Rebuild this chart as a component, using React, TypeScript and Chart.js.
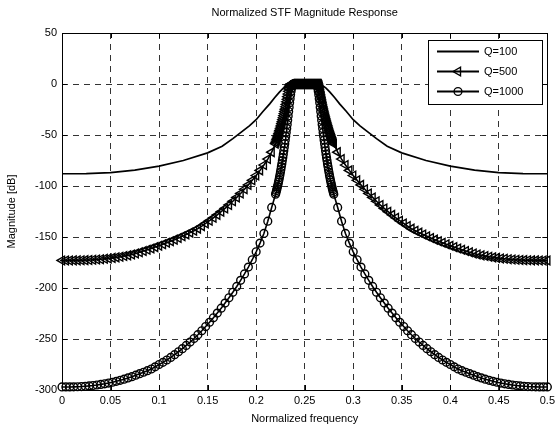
import React, { useEffect, useRef } from "react";
import { Chart, registerables } from "chart.js";

Chart.register(...registerables);

const titleText = "Normalized STF Magnitude Response";
const xAxisTitle = "Normalized frequency";
const yAxisTitle = "Magnitude [dB]";
const seriesNames = ["Q=100", "Q=500", "Q=1000"];

const xTicks = [0, 0.05, 0.1, 0.15, 0.2, 0.25, 0.3, 0.35, 0.4, 0.45, 0.5];
const xTickLabels = ["0", "0.05", "0.1", "0.15", "0.2", "0.25", "0.3", "0.35", "0.4", "0.45", "0.5"];
const yTicks = [-300, -250, -200, -150, -100, -50, 0, 50];

// Q=100 (solid line)
const q100Freq = [0, 0.025, 0.05, 0.075, 0.1, 0.125, 0.15, 0.165, 0.176, 0.185, 0.193, 0.2, 0.207, 0.214, 0.219, 0.224, 0.228, 0.232, 0.236,
  0.264, 0.268, 0.272, 0.276, 0.281, 0.286, 0.293, 0.3, 0.307, 0.315, 0.324, 0.335, 0.35, 0.375, 0.4, 0.425, 0.45, 0.475, 0.5];
const q100Mag = [-88, -87.8, -86.8, -84.5, -80.5, -75, -67.5, -61, -53.5, -47, -41, -35, -27, -19.5, -13.5, -8, -4, -1.2, 0,
  0, -1.2, -4, -8, -13.5, -19.5, -27, -35, -41, -47, -53.5, -61, -67.5, -75, -80.5, -84.5, -86.8, -87.8, -88];

// frequency grid shared by the marker series
const freqLeft = [0, 0.004, 0.008, 0.012, 0.016, 0.02, 0.024, 0.028, 0.032, 0.036,
  0.04, 0.044, 0.048, 0.052, 0.056, 0.06, 0.064, 0.068, 0.072, 0.076,
  0.08, 0.084, 0.088, 0.092, 0.096, 0.1, 0.104, 0.108, 0.112, 0.116,
  0.12, 0.124, 0.128, 0.132, 0.136, 0.14, 0.144, 0.148, 0.152, 0.156,
  0.16, 0.164, 0.168, 0.172, 0.176, 0.18, 0.184, 0.188, 0.192, 0.196,
  0.2, 0.204, 0.208, 0.212, 0.216];
const freqBand = [0.22, 0.2205, 0.221, 0.2215, 0.222, 0.2225, 0.223, 0.2235, 0.224, 0.2245,
  0.225, 0.2255, 0.226, 0.2265, 0.227, 0.2275, 0.228, 0.2285, 0.229, 0.2295,
  0.23, 0.2305, 0.231, 0.2315, 0.232, 0.2325, 0.233, 0.2335, 0.234, 0.2345,
  0.235, 0.2355, 0.236, 0.2365, 0.237, 0.2375, 0.238, 0.2385, 0.239, 0.2395,
  0.24, 0.2405, 0.241, 0.2415, 0.242, 0.2425, 0.243, 0.2435, 0.244, 0.2445,
  0.245, 0.2455, 0.246, 0.2465, 0.247, 0.2475, 0.248, 0.2485, 0.249, 0.2495,
  0.25, 0.2505, 0.251, 0.2515, 0.252, 0.2525, 0.253, 0.2535, 0.254, 0.2545,
  0.255, 0.2555, 0.256, 0.2565, 0.257, 0.2575, 0.258, 0.2585, 0.259, 0.2595,
  0.26, 0.2605, 0.261, 0.2615, 0.262, 0.2625, 0.263, 0.2635, 0.264, 0.2645,
  0.265, 0.2655, 0.266, 0.2665, 0.267, 0.2675, 0.268, 0.2685, 0.269, 0.2695,
  0.27, 0.2705, 0.271, 0.2715, 0.272, 0.2725, 0.273, 0.2735, 0.274, 0.2745,
  0.275, 0.2755, 0.276, 0.2765, 0.277, 0.2775, 0.278, 0.2785, 0.279, 0.2795,
  0.28];
const freqRight = [0.284, 0.288, 0.292, 0.296, 0.3, 0.304, 0.308, 0.312, 0.316, 0.32,
  0.324, 0.328, 0.332, 0.336, 0.34, 0.344, 0.348, 0.352, 0.356, 0.36,
  0.364, 0.368, 0.372, 0.376, 0.38, 0.384, 0.388, 0.392, 0.396, 0.4,
  0.404, 0.408, 0.412, 0.416, 0.42, 0.424, 0.428, 0.432, 0.436, 0.44,
  0.444, 0.448, 0.452, 0.456, 0.46, 0.464, 0.468, 0.472, 0.476, 0.48,
  0.484, 0.488, 0.492, 0.496, 0.5];

// Q=500 (left-pointing triangles)
const q500Left = [-173.0, -173.0, -173.0, -172.9, -172.9, -172.8, -172.7, -172.5, -172.3, -172.1,
  -171.8, -171.4, -171.0, -170.5, -170.0, -169.4, -168.7, -168.0, -167.1, -166.1,
  -165.0, -163.8, -162.5, -161.2, -159.9, -158.5, -157.1, -155.6, -154.1, -152.6,
  -151.0, -149.3, -147.5, -145.7, -143.8, -141.8, -139.3, -136.7, -134.0, -131.2,
  -128.3, -125.2, -122.0, -118.6, -115.0, -111.2, -107.3, -103.2, -98.9, -94.4,
  -89.7, -84.7, -79.4, -73.6, -66.8];
const q500Band = [-58.5, -57.2, -55.9, -54.5, -53.1, -51.7, -50.2, -48.7, -47.1, -45.5,
  -43.9, -42.2, -40.5, -38.7, -36.9, -35.0, -33.1, -31.1, -29.0, -26.9,
  -24.7, -22.4, -20.0, -17.5, -15.0, -12.4, -9.8, -7.2, -4.8, -2.8,
  -1.3, -0.4,
  0, 0, 0, 0, 0, 0, 0, 0, 0, 0,
  0, 0, 0, 0, 0, 0, 0, 0, 0, 0,
  0, 0, 0, 0, 0, 0, 0, 0, 0, 0,
  0, 0, 0, 0, 0, 0, 0, 0, 0, 0,
  0, 0, 0, 0, 0, 0, 0, 0, 0, 0,
  0, 0, 0, 0, 0, 0, 0,
  -0.4, -1.3,
  -2.8, -4.8, -7.2, -9.8, -12.4, -15.0, -17.5, -20.0, -22.4, -24.7,
  -26.9, -29.0, -31.1, -33.1, -35.0, -36.9, -38.7, -40.5, -42.2, -43.9,
  -45.5, -47.1, -48.7, -50.2, -51.7, -53.1, -54.5, -55.9, -57.2, -58.5];
const q500Right = [-66.8, -73.6, -79.4, -84.7, -89.7,
  -94.4, -98.9, -103.2, -107.3, -111.2, -115.0, -118.6, -122.0, -125.2, -128.3,
  -131.2, -134.0, -136.7, -139.3, -141.8, -143.8, -145.7, -147.5, -149.3, -151.0,
  -152.6, -154.1, -155.6, -157.1, -158.5, -159.9, -161.2, -162.5, -163.8, -165.0,
  -166.1, -167.1, -168.0, -168.7, -169.4, -170.0, -170.5, -171.0, -171.4, -171.8,
  -172.1, -172.3, -172.5, -172.7, -172.8, -172.9, -172.9, -173.0, -173.0, -173.0];

// Q=1000 (circles)
const q1000Left = [-297.0, -297.0, -297.0, -296.9, -296.8, -296.6, -296.3, -296.0, -295.6, -295.1,
  -294.5, -293.9, -293.2, -292.4, -291.5, -290.5, -289.4, -288.2, -286.9, -285.5,
  -284.0, -282.6, -281.1, -279.4, -277.3, -275.0, -272.9, -270.6, -268.1, -265.4,
  -262.5, -259.5, -256.3, -253.0, -249.5, -245.8, -241.9, -237.8, -233.6, -229.2,
  -224.6, -219.8, -214.8, -209.6, -204.2, -198.5, -192.5, -186.2, -179.5, -172.3,
  -164.5, -156.0, -146.5, -134.5, -121.0];
const q1000Band = [-108.0, -106.3, -104.5, -102.6, -100.6, -98.5, -96.3, -94.0, -91.6, -89.1,
  -86.5, -83.8, -81.0, -78.1, -75.1, -72.0, -68.8, -65.5, -62.1, -58.6,
  -55.0, -51.3, -47.5, -43.6, -39.6, -35.5, -31.3, -27.0, -22.7, -18.5,
  -14.4, -10.5, -7.0, -4.1, -1.9, -0.6,
  0, 0, 0, 0, 0, 0, 0, 0, 0, 0,
  0, 0, 0, 0, 0, 0, 0, 0, 0, 0,
  0, 0, 0, 0, 0, 0, 0, 0, 0, 0,
  0, 0, 0, 0, 0, 0, 0, 0, 0, 0,
  0, 0, 0, 0, 0, 0, 0, 0, 0,
  -0.6, -1.9, -4.1, -7.0, -10.5, -14.4,
  -18.5, -22.7, -27.0, -31.3, -35.5, -39.6, -43.6, -47.5, -51.3, -55.0,
  -58.6, -62.1, -65.5, -68.8, -72.0, -75.1, -78.1, -81.0, -83.8, -86.5,
  -89.1, -91.6, -94.0, -96.3, -98.5, -100.6, -102.6, -104.5, -106.3, -108.0];
const q1000Right = [-121.0, -134.5, -146.5, -156.0, -164.5,
  -172.3, -179.5, -186.2, -192.5, -198.5, -204.2, -209.6, -214.8, -219.8, -224.6,
  -229.2, -233.6, -237.8, -241.9, -245.8, -249.5, -253.0, -256.3, -259.5, -262.5,
  -265.4, -268.1, -270.6, -272.9, -275.0, -277.3, -279.4, -281.1, -282.6, -284.0,
  -285.5, -286.9, -288.2, -289.4, -290.5, -291.5, -292.4, -293.2, -293.9, -294.5,
  -295.1, -295.6, -296.0, -296.3, -296.6, -296.8, -296.9, -297.0, -297.0, -297.0];

const FONT = '"Liberation Sans", Arial, Helvetica, sans-serif';

function pairs(xs: number[], ys: number[]) {
  return xs.map((x, i) => ({ x, y: ys[i] }));
}

function drawLegendMarker(ctx: CanvasRenderingContext2D, kind: string, x: number, y: number) {
  ctx.beginPath();
  if (kind === "triangle") {
    const r = 5;
    ctx.moveTo(x - r, y);
    ctx.lineTo(x + r * 0.5, y - r * 0.866);
    ctx.lineTo(x + r * 0.5, y + r * 0.866);
    ctx.closePath();
  } else if (kind === "circle") {
    ctx.arc(x, y, 3.9, 0, Math.PI * 2);
  }
  ctx.stroke();
}

const framePlugin = {
  id: "matlabFrame",
  beforeDatasetsDraw(chart: any) {
    const { ctx, chartArea } = chart;
    const { left, right, top, bottom } = chartArea;
    const xs = chart.scales.x;
    const ys = chart.scales.y;
    ctx.save();
    ctx.setLineDash([]);
    ctx.strokeStyle = "#000";
    ctx.lineWidth = 1;
    ctx.beginPath();
    const tl = 5;
    for (const v of xTicks) {
      const px = Math.round(xs.getPixelForValue(v)) + 0.5;
      ctx.moveTo(px, bottom);
      ctx.lineTo(px, bottom - tl);
      ctx.moveTo(px, top);
      ctx.lineTo(px, top + tl);
    }
    for (const v of yTicks) {
      const py = Math.round(ys.getPixelForValue(v)) + 0.5;
      ctx.moveTo(left, py);
      ctx.lineTo(left + tl, py);
      ctx.moveTo(right, py);
      ctx.lineTo(right - tl, py);
    }
    ctx.stroke();
    ctx.strokeRect(Math.round(left) + 0.5, Math.round(top) + 0.5, Math.round(right - left), Math.round(bottom - top));
    ctx.restore();
  },
  afterDraw(chart: any) {
    const { ctx, chartArea } = chart;
    const { left, right, top } = chartArea;
    ctx.save();
    // title
    ctx.fillStyle = "#000";
    ctx.font = `11px ${FONT}`;
    ctx.textAlign = "center";
    ctx.textBaseline = "middle";
    ctx.fillText(titleText, (left + right) / 2, 13);

    // legend
    const lw = 114;
    const lh = 64;
    const lx = Math.round(right) - 5 - lw;
    const ly = Math.round(top) + 7;
    ctx.fillStyle = "#fff";
    ctx.fillRect(lx, ly, lw, lh);
    ctx.strokeStyle = "#000";
    ctx.lineWidth = 1;
    ctx.setLineDash([]);
    ctx.strokeRect(lx + 0.5, ly + 0.5, lw, lh);
    const kinds = ["none", "triangle", "circle"];
    for (let i = 0; i < seriesNames.length; i++) {
      const cy = ly + 11.5 + i * 20;
      const x0 = lx + 9;
      const x1 = lx + 51;
      ctx.lineWidth = 1.8;
      ctx.beginPath();
      ctx.moveTo(x0, cy);
      ctx.lineTo(x1, cy);
      ctx.stroke();
      ctx.lineWidth = 1.4;
      drawLegendMarker(ctx, kinds[i], (x0 + x1) / 2, cy);
      ctx.fillStyle = "#000";
      ctx.textAlign = "left";
      ctx.textBaseline = "middle";
      ctx.font = `11px ${FONT}`;
      ctx.fillText(seriesNames[i], lx + 56, cy + 0.5);
    }
    ctx.restore();
  },
};

export default function App() {
  const canvasRef = useRef<HTMLCanvasElement | null>(null);

  useEffect(() => {
    const canvas = canvasRef.current;
    if (!canvas) return;
    Chart.defaults.font.family = FONT;
    Chart.defaults.font.size = 11;
    Chart.defaults.color = "#000";

    const freq = [...freqLeft, ...freqBand, ...freqRight];
    const q500 = [...q500Left, ...q500Band, ...q500Right];
    const q1000 = [...q1000Left, ...q1000Band, ...q1000Right];

    const chart = new Chart(canvas, {
      type: "line",
      data: {
        datasets: [
          {
            label: seriesNames[0],
            data: pairs(q100Freq, q100Mag),
            borderColor: "#000",
            borderWidth: 1.7,
            pointRadius: 0,
            fill: false,
            tension: 0,
            clip: false as any,
          },
          {
            label: seriesNames[1],
            data: pairs(freq, q500),
            borderColor: "#000",
            borderWidth: 1.6,
            pointStyle: "triangle",
            pointRotation: -90,
            pointRadius: 5,
            pointBorderWidth: 1.4,
            pointBorderColor: "#000",
            pointBackgroundColor: "rgba(0,0,0,0)",
            fill: false,
            tension: 0,
            clip: false as any,
          },
          {
            label: seriesNames[2],
            data: pairs(freq, q1000),
            borderColor: "#000",
            borderWidth: 1.6,
            pointStyle: "circle",
            pointRadius: 3.9,
            pointBorderWidth: 1.4,
            pointBorderColor: "#000",
            pointBackgroundColor: "rgba(0,0,0,0)",
            fill: false,
            tension: 0,
            clip: false as any,
          },
        ],
      },
      options: {
        responsive: false,
        animation: false,
        events: [],
        layout: { padding: { left: 0, right: 10, top: 33, bottom: 0 } },
        plugins: {
          legend: { display: false },
          tooltip: { enabled: false },
          title: { display: false },
        },
        scales: {
          x: {
            type: "linear",
            min: 0,
            max: 0.5,
            afterBuildTicks: (scale: any) => {
              scale.ticks = xTicks.map((v) => ({ value: v }));
            },
            afterFit: (scale: any) => {
              scale.height = 40;
            },
            ticks: {
              autoSkip: false,
              maxRotation: 0,
              padding: 4,
              color: "#000",
              font: { size: 11, family: FONT },
              callback: (_v: any, i: number) => xTickLabels[i],
            },
            grid: {
              color: "rgba(0,0,0,0.8)",
              lineWidth: 1,
              drawTicks: false,
            },
            border: { display: false, dash: [6, 5] },
            title: {
              display: true,
              text: xAxisTitle,
              color: "#000",
              font: { size: 11, family: FONT },
              padding: { top: 0, bottom: 4 },
            },
          },
          y: {
            type: "linear",
            min: -300,
            max: 50,
            afterBuildTicks: (scale: any) => {
              scale.ticks = yTicks.map((v) => ({ value: v }));
            },
            afterFit: (scale: any) => {
              scale.width = 62;
            },
            ticks: {
              autoSkip: false,
              padding: 5,
              color: "#000",
              font: { size: 11, family: FONT },
            },
            grid: {
              color: "rgba(0,0,0,0.8)",
              lineWidth: 1,
              drawTicks: false,
            },
            border: { display: false, dash: [6, 5] },
            title: {
              display: true,
              text: yAxisTitle,
              color: "#000",
              font: { size: 11, family: FONT },
              padding: { top: 5, bottom: 0 },
            },
          },
        },
      } as any,
      plugins: [framePlugin],
    });

    return () => {
      chart.destroy();
    };
  }, []);

  return (
    <div style={{ position: "absolute", left: 0, top: 0, width: 559, height: 430, background: "#fff" }}>
      <canvas ref={canvasRef} width={559} height={430} style={{ display: "block" }} />
    </div>
  );
}
